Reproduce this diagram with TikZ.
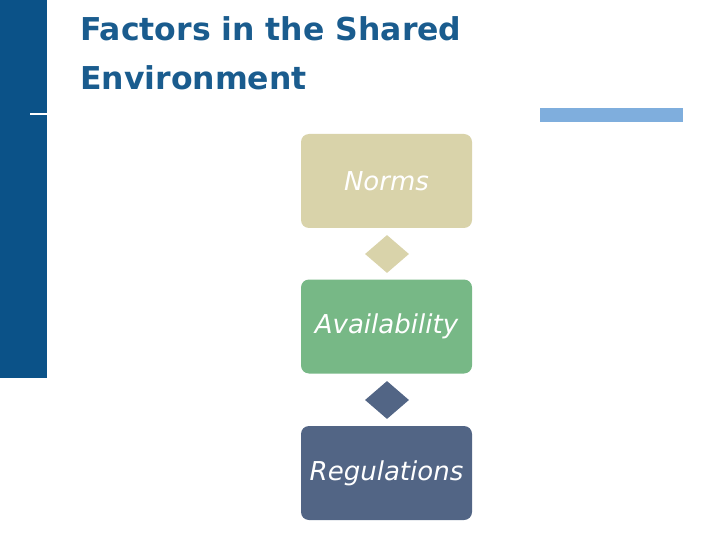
\documentclass[tikz,border=0pt]{standalone}
\usepackage{fontspec}
\setmainfont{DejaVu Sans}
\usetikzlibrary{shapes.geometric}
\definecolor{barblue}{HTML}{0B5288}
\definecolor{titleblue}{HTML}{1A5C8E}
\definecolor{lightbar}{HTML}{7FAEDD}
\definecolor{normsc}{HTML}{D9D3AA}
\definecolor{availc}{HTML}{77B886}
\definecolor{regc}{HTML}{526585}
\tikzset{
  stepbox/.style={rounded corners=8pt, minimum width=171pt, minimum height=94pt, inner sep=0pt, text=white, font=\fontsize{26}{30}\selectfont\itshape},
  joint/.style={diamond, minimum width=44pt, minimum height=38pt, inner sep=0pt, aspect=1.15},
  titletext/.style={anchor=base west, text=titleblue, font=\fontsize{31.5}{36}\selectfont\bfseries, inner sep=0pt}
}
\begin{document}
\begin{tikzpicture}[x=1pt,y=1pt]
\useasboundingbox (0,0) rectangle (720,-540);
\fill[barblue] (0,0) rectangle (47,-378);
\fill[white] (30,-113) rectangle (47,-115);
\fill[lightbar] (540,-108) rectangle (683,-122);
\node[titletext] (t1) at (80,-41) {Factors in the Shared};
\node[titletext] (t2) at (80,-90) {Environment};
\node[stepbox, fill=normsc] (norms) at (386.5,-181) {Norms};
\node[stepbox, fill=availc] (avail) at (386.5,-326.5) {Availability};
\node[stepbox, fill=regc] (reg) at (386.5,-473) {Regulations};
\node[joint, fill=normsc] (d1) at (387,-254) {};
\node[joint, fill=regc] (d2) at (387,-400) {};
\end{tikzpicture}
\end{document}
